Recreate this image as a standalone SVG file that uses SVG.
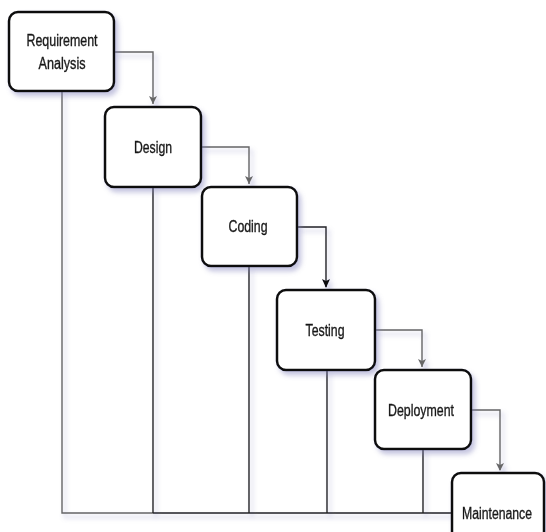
<svg xmlns="http://www.w3.org/2000/svg" width="546" height="532" viewBox="0 0 546 532">
<style>
.box{fill:#fff;stroke:#111;stroke-width:2.5}
.lbl{font-family:"Liberation Sans",Arial,sans-serif;font-size:16px;fill:#1a1a1a;stroke:#1a1a1a;stroke-width:0.35;text-anchor:middle;dominant-baseline:central}
.c{fill:none;stroke:#666;stroke-width:1.4}
.k{fill:none;stroke:#222;stroke-width:1.4}
</style>
<defs>
<filter id="sh" x="-20%" y="-20%" width="140%" height="140%">
<feDropShadow dx="3" dy="4" stdDeviation="2.5" flood-color="#7a7ab8" flood-opacity="0.45"/>
</filter>
</defs>
<g id="connectors" filter="url(#sh)">
<path class="c" d="M114,52 H153 V104"/>
<path class="c" d="M201,147 H249 V184"/>
<path class="k" d="M297,227 H326 V287"/>
<path class="c" d="M375,330 H422 V367"/>
<path class="c" d="M471,410 H500 V470"/>
<path class="c" d="M62,91 V513 H153"/>
<path class="k" d="M153,513 H452"/>
<path class="k" d="M153,187 V513"/>
<path class="k" d="M249,266 V513"/>
<path class="k" d="M327,370 V513"/>
<path class="k" d="M423,449 V513"/>
<path d="M149,96 L153,104 L157,96 L153,98 Z" fill="#666"/>
<path d="M245,176 L249,184 L253,176 L249,178 Z" fill="#666"/>
<path d="M322,279 L326,288 L330,279 L326,281 Z" fill="#111"/>
<path d="M418,359 L422,367 L426,359 L422,361 Z" fill="#666"/>
<path d="M496,463 L500,471 L504,463 L500,465 Z" fill="#666"/>
</g>
<g id="n1" filter="url(#sh)"><rect class="box" x="9" y="12" width="105" height="79" rx="9"/><text class="lbl" x="62" y="40" textLength="71" lengthAdjust="spacingAndGlyphs">Requirement</text><text class="lbl" x="62" y="63" textLength="47" lengthAdjust="spacingAndGlyphs">Analysis</text></g>
<g id="n2" filter="url(#sh)"><rect class="box" x="105" y="107" width="96" height="80" rx="9"/><text class="lbl" x="153" y="147" textLength="38" lengthAdjust="spacingAndGlyphs">Design</text></g>
<g id="n3" filter="url(#sh)"><rect class="box" x="202" y="187" width="95" height="79" rx="9"/><text class="lbl" x="248" y="226" textLength="39" lengthAdjust="spacingAndGlyphs">Coding</text></g>
<g id="n4" filter="url(#sh)"><rect class="box" x="277" y="290" width="98" height="80" rx="9"/><text class="lbl" x="325" y="330" textLength="39" lengthAdjust="spacingAndGlyphs">Testing</text></g>
<g id="n5" filter="url(#sh)"><rect class="box" x="375" y="370" width="96" height="79" rx="9"/><text class="lbl" x="421" y="410" textLength="66" lengthAdjust="spacingAndGlyphs">Deployment</text></g>
<g id="n6" filter="url(#sh)"><rect class="box" x="452" y="473" width="92" height="80" rx="9"/><text class="lbl" x="497" y="513" textLength="70" lengthAdjust="spacingAndGlyphs">Maintenance</text></g>
</svg>
